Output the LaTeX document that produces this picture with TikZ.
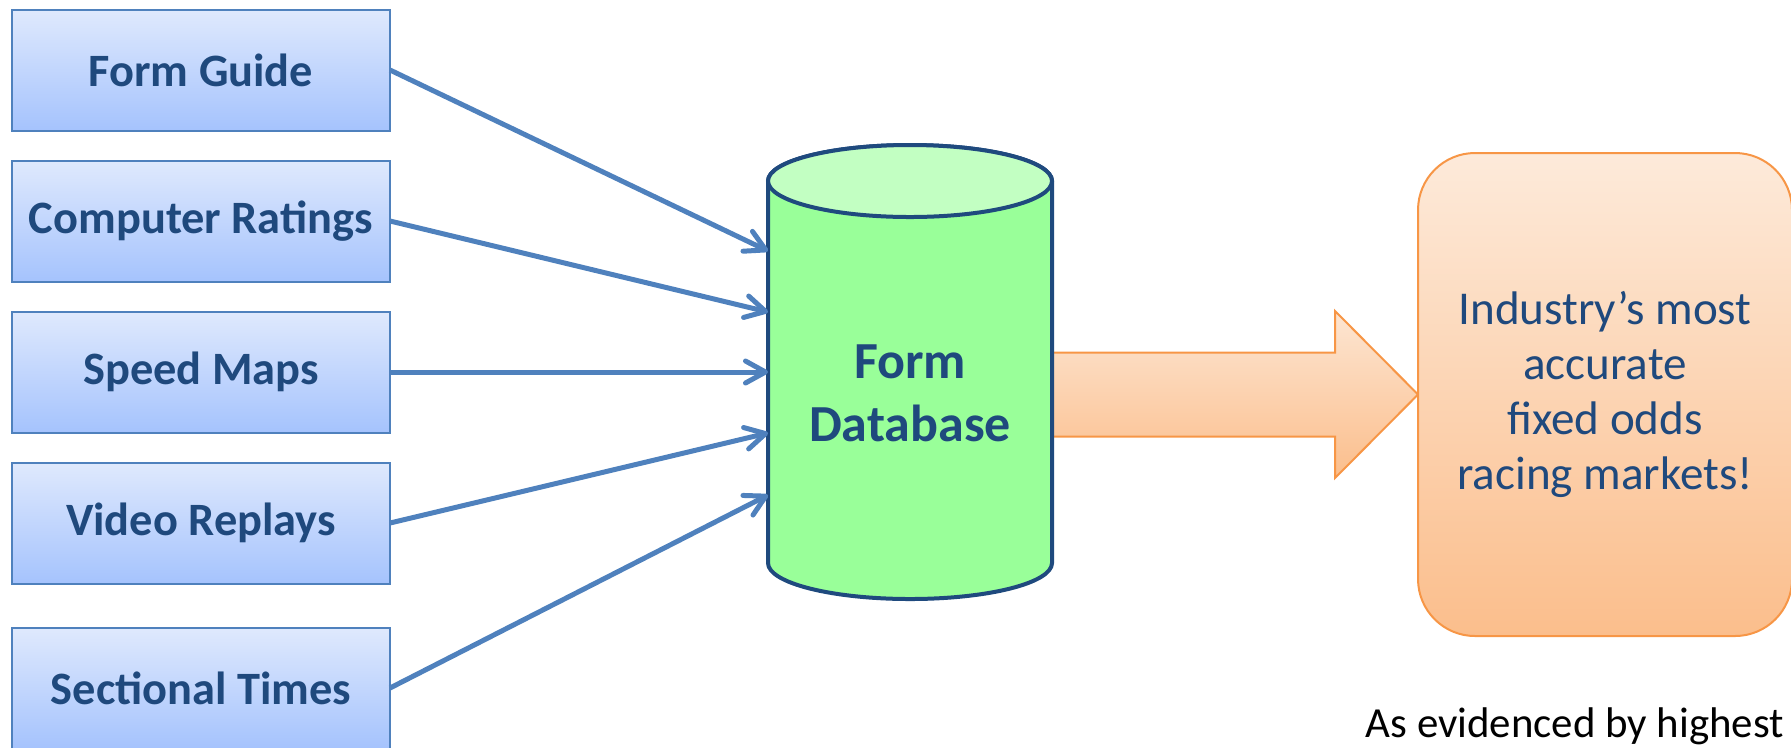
\documentclass[tikz,border=0pt]{standalone}
\usepackage{fontspec}
\setmainfont{Carlito}
\usetikzlibrary{positioning,calc,arrows.meta,backgrounds}

\definecolor{txtblue}{HTML}{1F497D}
\definecolor{lineblue}{HTML}{4F81BD}
\definecolor{boxtop}{HTML}{DFE9FD}
\definecolor{boxbot}{HTML}{A5C3FD}
\definecolor{dbside}{HTML}{99FF99}
\definecolor{dbtop}{HTML}{C2FFC2}
\definecolor{dbline}{HTML}{1F4A7E}
\definecolor{orline}{HTML}{F79646}
\definecolor{ortop}{HTML}{FDEADA}
\definecolor{orbot}{HTML}{FBBE8C}

\newcommand{\srcfont}{\fontsize{13.2pt}{16pt}\selectfont\bfseries}
\newcommand{\dbfont}{\fontsize{14.8pt}{17.9pt}\selectfont\bfseries}
\newcommand{\resfont}{\fontsize{13.4pt}{15.6pt}\selectfont}
\newcommand{\notefont}{\fontsize{12.2pt}{14pt}\selectfont}
\newcommand{\boxw}{3.78cm}
\newcommand{\boxh}{1.21cm}
\newcommand{\ydist}{0.30cm}
\newcommand{\ydistb}{0.44cm}
\newcommand{\xdist}{3.78cm}
\newcommand{\xdistb}{3.66cm}
\newcommand{\dbrx}{1.42cm}
\newcommand{\dbry}{0.36cm}

\begin{document}
\begin{tikzpicture}[node distance = 1cm, auto,
  srcbox/.style={rectangle,
    minimum width=\boxw,
    minimum height=\boxh,
    text centered,
    inner sep=1pt,
    outer sep=0pt,
    line width=0.02cm,
    draw=lineblue,
    top color=boxtop,
    bottom color=boxbot,
    text=txtblue,
    font=\srcfont},
  feed/.style={draw=lineblue,
    line width=0.05cm,
    -{Straight Barb[round,length=0.2cm,width=0.22cm]}},
  dbwall/.style={draw=dbline,
    line width=0.04cm,
    fill=dbside},
  bigarrow/.style={draw=orline,
    line width=0.02cm,
    top color=ortop!90!orbot,
    bottom color=orbot},
  resbox/.style={rectangle,
    rounded corners=0.57cm,
    minimum width=3.74cm,
    minimum height=4.83cm,
    align=center,
    inner sep=1pt,
    outer sep=0pt,
    line width=0.02cm,
    draw=orline,
    top color=ortop,
    bottom color=orbot,
    text=txtblue,
    font=\resfont}]

  \useasboundingbox (0,0) rectangle (17.91,-7.47);

  %%%%%%%%%%% form sources
  % Form Guide
  \node [srcbox] (guide) at (2.01,-0.70) {Form Guide};

  % Computer Ratings
  \node [srcbox, below=\ydist of guide] (ratings) {Computer Ratings};

  % Speed Maps
  \node [srcbox, below=\ydist of ratings] (speed) {Speed Maps};

  % Video Replays
  \node [srcbox, below=\ydist of speed] (video) {Video Replays};

  % Sectional Times
  \node [srcbox, below=\ydistb of video] (sectional) {Sectional Times};

  %%%%%%%%%%% database
  \node [rectangle,
  minimum width=2.84cm,
  minimum height=3.82cm,
  inner sep=0pt,
  outer sep=0pt,
  right=\xdist of speed,
  label={[align=center,text=txtblue,font=\dbfont,yshift=-0.21cm]center:Form\\Database}] (db) {};

  % markets
  \node [resbox,
  right=\xdistb of db,
  yshift=-0.225cm] (res) {Industry’s most\\accurate\\fixed odds\\racing markets!};

  % note below markets
  \node [anchor=base west, inner sep=0pt, font=\notefont] (note) at (13.65,-7.37) {As evidenced by highest};

  %%%%%%%%%%% feeds into the database
  \draw[feed] (guide.east) -- ([yshift=1.21cm]db.west);
  \draw[feed] (ratings.east) -- ([yshift=0.60cm]db.west);
  \draw[feed] (speed.east) -- (db.west);
  \draw[feed] (video.east) -- ([yshift=-0.61cm]db.west);
  \draw[feed] (sectional.east) -- ([yshift=-1.23cm]db.west);

  \begin{scope}[on background layer]
    % big arrow from database to markets
    \draw[bigarrow] let
    \p1=(db.east),
    \p2=(res.west)
    in
    ({\x1-0.05cm},{\y2+0.42cm}) -- ({\x2-0.83cm},{\y2+0.42cm})
    -- ({\x2-0.83cm},{\y2+0.835cm}) -- (\p2)
    -- ({\x2-0.83cm},{\y2-0.835cm}) -- ({\x2-0.83cm},{\y2-0.42cm})
    -- ({\x1-0.05cm},{\y2-0.42cm}) -- cycle;

    % cylinder body
    \draw[dbwall] (db.north west) -- (db.south west)
    arc[start angle=180, end angle=360, x radius=\dbrx, y radius=\dbry]
    -- (db.north east)
    arc[start angle=0, end angle=180, x radius=\dbrx, y radius=\dbry] -- cycle;

    % cylinder lid
    \draw[dbwall, fill=dbtop] (db.north) ellipse [x radius=\dbrx, y radius=\dbry];
  \end{scope}

\end{tikzpicture}
\end{document}
